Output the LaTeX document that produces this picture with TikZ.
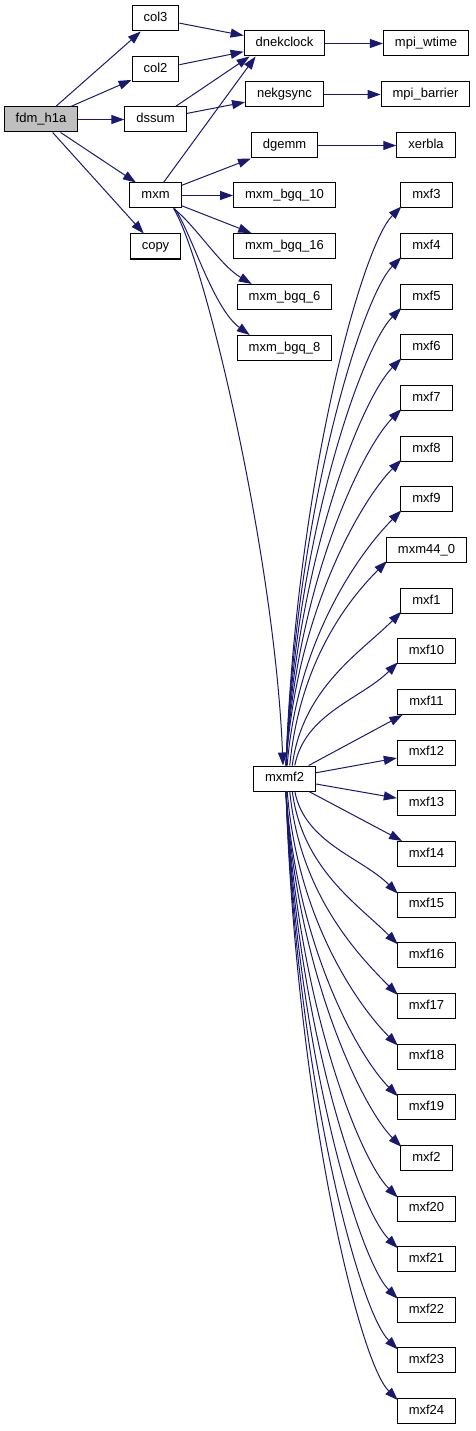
\documentclass[tikz,border=0pt]{standalone}
\usepackage{fontspec}
\setmainfont{Liberation Sans}
\usetikzlibrary{arrows.meta,calc}
\definecolor{edgeblue}{HTML}{191970}
\definecolor{nodegray}{HTML}{BFBFBF}
\begin{document}
\begin{tikzpicture}[x=1pt,y=-1pt,
  box/.style={draw=black,line width=1pt,fill=white,rectangle,minimum height=25pt,
    text height=9.4pt,text depth=2.8pt,
    inner xsep=11.5pt,inner ysep=0pt,font=\fontsize{13}{15}\selectfont},
  edge/.style={draw=edgeblue,line width=1pt,-{Triangle[length=13pt,width=9pt]}}]
\useasboundingbox (0,0) rectangle (475,1431);
% nodes
\node[box,fill=nodegray] (fdm) at (41,119.5) {fdm\_h1a};
\node[box] (col3) at (155.5,18.5) {col3};
\node[box] (col2) at (155.5,69.5) {col2};
\node[box] (dssum) at (155.5,119.5) {dssum};
\node[box] (mxm) at (155.5,195.5) {mxm};
\node[box] (copy) at (155.5,246.5) {copy};
\node[box] (dnekclock) at (284.5,43.5) {dnekclock};
\node[box] (mpiwtime) at (426,43.5) {mpi\_wtime};
\node[box] (nekgsync) at (284.5,94.5) {nekgsync};
\node[box] (mpibarrier) at (425.5,94.5) {mpi\_barrier};
\node[box] (dgemm) at (284.5,145.5) {dgemm};
\node[box] (xerbla) at (426,145.5) {xerbla};
\node[box] (bgq10) at (284.5,195.5) {mxm\_bgq\_10};
\node[box] (bgq16) at (284.5,246) {mxm\_bgq\_16};
\node[box] (bgq6) at (284.5,297) {mxm\_bgq\_6};
\node[box] (bgq8) at (284.5,348) {mxm\_bgq\_8};
\node[box] (mxmf2) at (284.5,778.5) {mxmf2};
\foreach \n/\lab [count=\i from 0] in {mxf3/mxf3,mxf4/mxf4,mxf5/mxf5,mxf6/mxf6,mxf7/mxf7,
  mxf8/mxf8,mxf9/mxf9,mxm44/mxm44\_0,mxf1/mxf1,mxf10/mxf10,mxf11/mxf11,mxf12/mxf12,
  mxf13/mxf13,mxf14/mxf14,mxf15/mxf15,mxf16/mxf16,mxf17/mxf17,mxf18/mxf18,mxf19/mxf19,
  mxf2/mxf2,mxf20/mxf20,mxf21/mxf21,mxf22/mxf22,mxf23/mxf23,mxf24/mxf24}
  {\node[box] (\n) at (426.5,195.5+50.65*\i) {\lab};}
% edges from fdm_h1a
\draw[edge] (fdm) -- (col3);
\draw[edge] (fdm) -- (col2);
\draw[edge] (fdm) -- (dssum);
\draw[edge] (fdm) -- (mxm);
\draw[edge] (fdm) -- (copy);
% to dnekclock
\draw[edge] (col3) -- (dnekclock);
\draw[edge] (col2) -- (dnekclock);
\draw[edge] ([xshift=20pt]dssum.north) -- ($(dnekclock.south west)+(6,0)$);
\draw[edge] ([xshift=8pt]mxm.north) -- ($(dnekclock.south west)+(12,0)$);
\draw[edge] (dssum) -- (nekgsync);
\draw[edge] (dnekclock) -- (mpiwtime);
\draw[edge] (nekgsync) -- (mpibarrier);
% from mxm
\draw[edge] (mxm) -- (dgemm);
\draw[edge] (dgemm) -- (xerbla);
\draw[edge] (mxm) -- (bgq10);
\draw[edge] (mxm) -- (bgq16);
\draw[edge] ([xshift=-8pt]mxm.south east) .. controls +(22,17) and +(-32,-19) .. ($(bgq6.north west)+(15,0)$);
\draw[edge] ([xshift=-7pt]mxm.south east) .. controls +(16,22) and +(-37,-27) .. ($(bgq8.north west)+(13,0)$);
\draw[edge] ([xshift=-8pt]mxm.south east) .. controls +(32,52) and +(-8,-206) .. ([xshift=-1.5pt]mxmf2.north);
% from mxmf2: upper curves
\foreach \t/\yc in {mxf3/195.5,mxf4/246.15,mxf5/296.8,mxf6/347.45,mxf7/398.1,mxf8/448.75,
  mxf9/499.4,mxm44/550.05,mxf1/600.7,mxf10/651.35}{
  \pgfmathsetmacro\myH{755.5-\yc}
  \pgfmathsetmacro\myD{min(40,0.35*\myH)}
  \pgfmathsetmacro\myS{max(0,14-\myH/20)+1.5}
  \draw[edge] ([xshift=\myS pt]mxmf2.north) .. controls +(10,-0.5*\myH) and +(-\myD,\myD) .. ($(\t.south west)+(1,-2)$);
}
% straight ones
\draw[edge] (mxmf2) -- (mxf11);
\draw[edge] (mxmf2) -- (mxf12);
\draw[edge] (mxmf2) -- (mxf13);
\draw[edge] (mxmf2) -- (mxf14);
% lower curves
\foreach \t/\yc in {mxf15/904.6,mxf16/955.25,mxf17/1005.9,mxf18/1056.55,mxf19/1107.2,
  mxf2/1157.85,mxf20/1208.5,mxf21/1259.15,mxf22/1309.8,mxf23/1360.45,mxf24/1411.1}{
  \pgfmathsetmacro\myH{\yc-801.5}
  \pgfmathsetmacro\myD{min(40,0.35*\myH)}
  \pgfmathsetmacro\myS{max(0,14-\myH/20)+1.5}
  \draw[edge] ([xshift=\myS pt]mxmf2.south) .. controls +(10,0.5*\myH) and +(-\myD,-\myD) .. ($(\t.north west)+(1,2)$);
}
\end{tikzpicture}
\end{document}
